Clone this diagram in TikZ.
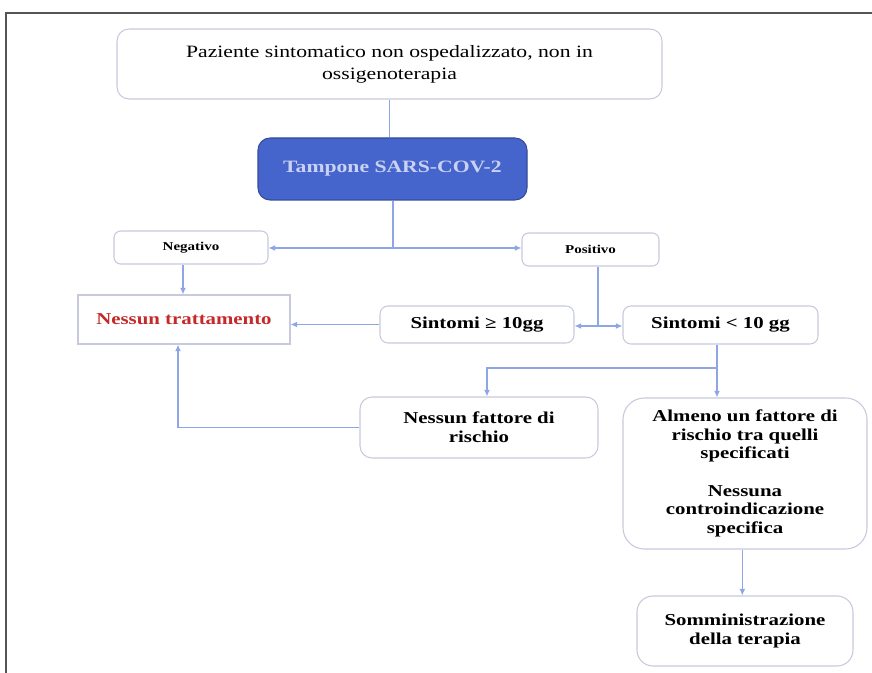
\documentclass[tikz,border=0pt]{standalone}
\usepackage{fontspec}
\setmainfont[FakeStretch=1.25]{Liberation Serif}
\usetikzlibrary{arrows.meta}

\definecolor{linkblue}{HTML}{8FA6E6}
\definecolor{boxgray}{HTML}{C6CADC}
\definecolor{tampblue}{HTML}{4565CC}
\definecolor{tamptext}{HTML}{C9D2F2}
\definecolor{nored}{HTML}{C42A2A}
\definecolor{framegray}{HTML}{555555}

\tikzset{
  box/.style={draw=boxgray, line width=0.8pt, rounded corners=9pt, align=center, inner sep=2pt},
  bbox/.style={box, font=\fontsize{12.5}{14}\selectfont\bfseries},
  link/.style={draw=linkblue, line width=0.9pt},
  tip/.style={-{Latex[length=5pt,width=4.5pt]}},
}

\begin{document}
\begin{tikzpicture}[x=0.75pt,y=-0.75pt]

	\useasboundingbox (0,0) rectangle (872,673);
	\draw [framegray, line width=0.9pt] (6,673) -- (6,13) -- (872,13);

	\node[box, minimum width=408.75pt, minimum height=52.5pt, font=\fontsize{13}{16.5}\selectfont] (paziente) at (389.5,64)
		{Paziente sintomatico non ospedalizzato, non in\\ossigenoterapia};

	\node[box, draw=tampblue!75!black, fill=tampblue, minimum width=201.75pt, minimum height=46.5pt,
		text=tamptext, font=\fontsize{13}{16}\selectfont\bfseries] (tampone) at (392.5,169) {Tampone SARS-COV-2};

	\node[box, rounded corners=5pt, minimum width=115.5pt, minimum height=24.75pt, font=\fontsize{9}{11}\selectfont\bfseries] (negativo) at (191,247.5) {Negativo};
	\node[box, rounded corners=5pt, minimum width=102.75pt, minimum height=24.75pt, font=\fontsize{9}{11}\selectfont\bfseries] (positivo) at (590.5,249.5) {Positivo};

	\node[bbox, rounded corners=0pt, minimum width=159pt, minimum height=36.75pt, text=nored] (nessuntratt) at (184,319.5) {Nessun trattamento};

	\node[bbox, rounded corners=6pt, minimum width=145.5pt, minimum height=27.75pt] (sintomimagg) at (477,324.5) {Sintomi ≥ 10gg};
	\node[bbox, rounded corners=6pt, minimum width=146.25pt, minimum height=28.5pt] (sintomimin) at (720.5,325) {Sintomi < 10 gg};

	\node[bbox, minimum width=178.5pt, minimum height=45.75pt] (nessunfatt) at (479,427.5) {Nessun fattore di\\rischio};

	\node[bbox, rounded corners=16pt, minimum width=183pt, minimum height=113.25pt] (almeno) at (745,473.5)
		{Almeno un fattore di\\rischio tra quelli\\specificati\\[14pt]Nessuna\\controindicazione\\specifica};

	\node[bbox, rounded corners=12pt, minimum width=162pt, minimum height=52.5pt] (somministr) at (745,631) {Somministrazione\\della terapia};

	% tampone
	\draw [link] (paziente.south) -- (paziente.south |- tampone.north);
	\coordinate (splittamp) at (393,248);
	\draw [link] (tampone.south -| splittamp) -- (splittamp);
	\draw [link,tip] (splittamp) -- (splittamp -| negativo.east);
	\draw [link,tip] (splittamp) -- (splittamp -| positivo.west);

	% negativo
	\draw [link,tip] ([xshift=-6pt]negativo.south) -- ([xshift=-6pt]negativo.south |- nessuntratt.north);

	% positivo
	\coordinate (splitpos) at (598,326);
	\draw [link] (positivo.south -| splitpos) -- (splitpos);
	\draw [link,tip] (splitpos) -- (splitpos -| sintomimagg.east);
	\draw [link,tip] (splitpos) -- (splitpos -| sintomimin.west);
	\draw [link,tip] (sintomimagg.west) -- (sintomimagg.west -| nessuntratt.east);

	% sintomi < 10 gg
	\coordinate (splitsint) at (717,368);
	\coordinate (nfin) at (487,397);
	\draw [link] (sintomimin.south -| splitsint) -- (splitsint);
	\draw [link,tip] (splitsint) -- (splitsint |- almeno.north);
	\draw [link,tip] (splitsint) -| (nfin |- nessunfatt.north);
	\draw [link,tip] (nessunfatt.west) -| ([xshift=-4.5pt]nessuntratt.south);

	\draw [link,tip] ([xshift=-2pt]almeno.south) -- ([xshift=-2pt]almeno.south |- somministr.north);

\end{tikzpicture}
\end{document}
